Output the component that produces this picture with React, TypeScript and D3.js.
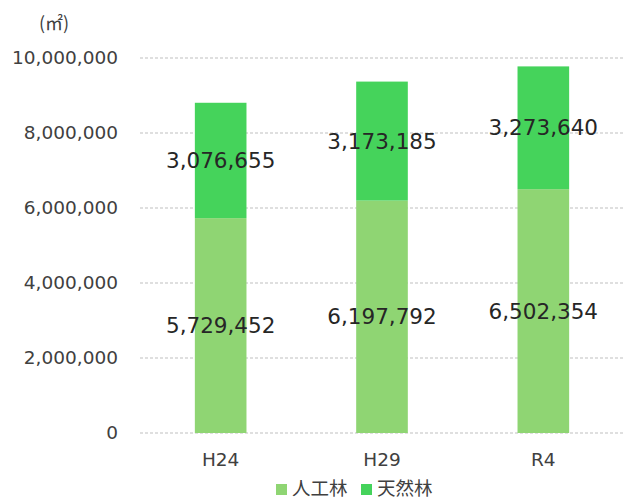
import React from "react";
import * as d3 from "d3";

const categories = ["H24", "H29", "R4"];
const plantedForest = [5729452, 6197792, 6502354];
const naturalForest = [3076655, 3173185, 3273640];
const seriesNames = ["人工林", "天然林"];
const yTicks = [0, 2000000, 4000000, 6000000, 8000000, 10000000];
const unitLabel = "(㎡)";

const colors = ["#8fd573", "#45d35b"];
const FONT = "'DejaVu Sans', 'Noto Sans CJK JP', sans-serif";
const CJK = "'Noto Sans CJK JP', sans-serif";

const W = 624;
const H = 501;
const plot = { left: 140, right: 624, top: 58, bottom: 433 };

export default function App() {
  const x = d3
    .scaleBand<string>()
    .domain(categories)
    .range([plot.left, plot.right])
    .paddingInner(0.68)
    .paddingOuter(0.34);
  const y = d3.scaleLinear().domain([0, 10000000]).range([plot.bottom, plot.top]);
  const fmt = d3.format(",");

  const rows = categories.map((c, i) => ({ c, a: plantedForest[i], b: naturalForest[i] }));
  const stacked = d3.stack<any>().keys(["a", "b"])(rows);

  return (
    <div style={{ position: "absolute", left: 0, top: 0 }}>
      <svg width={W} height={H} style={{ display: "block", background: "#fff" }}>
        <text x={54} y={24} dy="0.35em" textAnchor="middle" fontFamily={CJK} fontSize={18} fill="#404040">
          {unitLabel}
        </text>
        {yTicks.map((t) => (
          <g key={t}>
            <line
              x1={plot.left}
              x2={plot.right}
              y1={y(t)}
              y2={y(t)}
              stroke="#bfbfbf"
              strokeWidth={1}
              strokeDasharray="3,2"
            />
            <text
              x={118}
              y={y(t)}
              dy="0.35em"
              textAnchor="end"
              fontFamily={FONT}
              fontSize={18.5}
              fill="#404040"
            >
              {fmt(t)}
            </text>
          </g>
        ))}
        {stacked.map((layer, li) =>
          layer.map((d, i) => (
            <rect
              key={`${li}-${i}`}
              x={x(categories[i])}
              width={x.bandwidth()}
              y={y(d[1])}
              height={y(d[0]) - y(d[1])}
              fill={colors[li]}
            />
          ))
        )}
        {stacked.map((layer, li) =>
          layer.map((d, i) => (
            <text
              key={`l${li}-${i}`}
              x={(x(categories[i]) as number) + x.bandwidth() / 2}
              y={(y(d[0]) + y(d[1])) / 2}
              dy="0.35em"
              textAnchor="middle"
              fontFamily={FONT}
              fontSize={21.5}
              fill="#262626"
            >
              {fmt(d[1] - d[0])}
            </text>
          ))
        )}
        {categories.map((c) => (
          <text
            key={c}
            x={(x(c) as number) + x.bandwidth() / 2}
            y={460}
            dy="0.35em"
            textAnchor="middle"
            fontFamily={FONT}
            fontSize={18.5}
            fill="#404040"
          >
            {c}
          </text>
        ))}
        <g fontFamily={CJK} fontSize={18.5} fill="#404040">
          <rect x={276} y={484} width={11} height={11} fill={colors[0]} />
          <text x={292} y={489} dy="0.35em">
            {seriesNames[0]}
          </text>
          <rect x={361} y={484} width={11} height={11} fill={colors[1]} />
          <text x={377} y={489} dy="0.35em">
            {seriesNames[1]}
          </text>
        </g>
      </svg>
    </div>
  );
}
